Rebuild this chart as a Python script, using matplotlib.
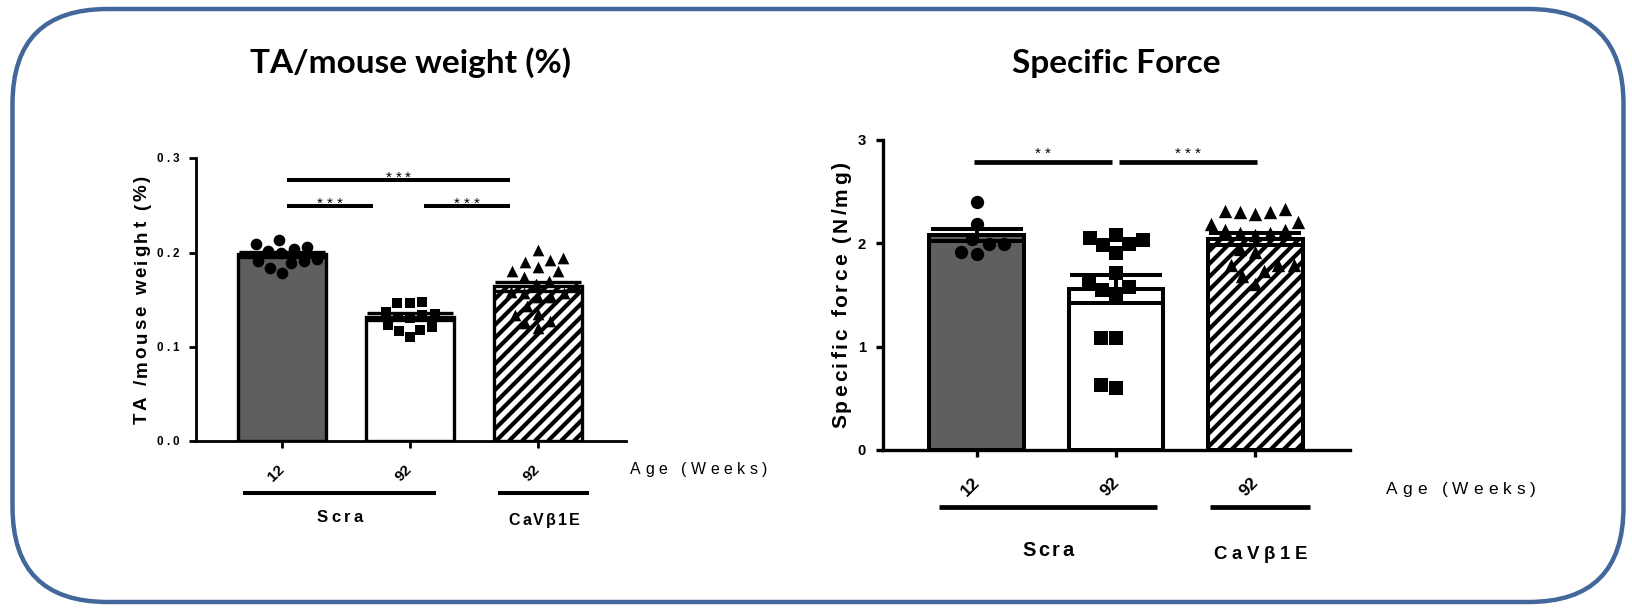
import numpy as np
import matplotlib
matplotlib.use("Agg")
import matplotlib.pyplot as plt
import matplotlib.transforms as mtransforms
from matplotlib.font_manager import FontProperties, findfont, get_font
from matplotlib.patches import FancyBboxPatch
from matplotlib.collections import LineCollection

try:
    from matplotlib.ft2font import LoadFlags
    NO_HINT = LoadFlags.NO_HINTING
except ImportError:
    NO_HINT = 2

# ---------------- data ----------------
ages = ["12", "92", "92"]
group_names = ["Scra", "CaVβ1E"]

# TA / mouse weight (%)
ta_mean = [0.198, 0.132, 0.164]
ta_sem = [0.003, 0.004, 0.005]
ta_scra12 = [0.213, 0.206, 0.202, 0.209, 0.204, 0.199, 0.191, 0.189, 0.178, 0.184, 0.191, 0.193]
ta_scra92 = [0.146, 0.137, 0.135, 0.146, 0.148, 0.123, 0.118, 0.110, 0.117, 0.121, 0.132, 0.130, 0.134]
ta_cav92 = [0.194, 0.190, 0.203, 0.185, 0.192, 0.180, 0.180, 0.174, 0.167, 0.170, 0.164,
            0.158, 0.157, 0.153, 0.143, 0.153, 0.157, 0.135, 0.127, 0.120, 0.125, 0.134]
ta_ticks = [0.0, 0.1, 0.2, 0.3]
ta_tick_labels = ["0.0", "0.1", "0.2", "0.3"]
ta_sig = [(0.04, 1.78, 0.277, "***"), (0.04, 0.71, 0.249, "***"), (1.11, 1.78, 0.249, "***")]

# Specific force (N/mg)
sf_mean = [2.08, 1.555, 2.04]
sf_sem = [0.06, 0.135, 0.06]
sf_scra12 = [2.40, 2.19, 2.04, 1.99, 1.90, 1.92, 1.99]
sf_scra92 = [2.05, 1.99, 2.08, 1.98, 2.03, 1.91, 1.71, 1.58, 1.50, 1.55, 1.63, 1.08, 1.08, 0.60, 0.63]
sf_cav92 = [2.30, 2.28, 2.33, 2.30, 2.19, 2.21, 2.13, 2.13, 2.10, 2.10,
            2.31, 2.08, 1.79, 1.79, 1.73, 1.61, 1.68, 1.79, 1.92, 1.95]
sf_ticks = [0, 1, 2, 3]
sf_tick_labels = ["0", "1", "2", "3"]
sf_sig = [(-0.02, 0.97, 2.784, "**"), (1.02, 2.01, 2.784, "***")]

# ---------------- figure ----------------
W, H = 1632, 608
PT = 100 / 72.0  # pixels per point
fig = plt.figure(figsize=(W / 100, H / 100), dpi=100)
PX = mtransforms.Affine2D().scale(1 / W, -1 / H).translate(0, 1) + fig.transFigure

FONT = "Liberation Sans"
BORDER = "#41679b"
DARK = "#5f5f5f"

# rounded frame around both panels
bg = fig.add_axes([0, 0, 1, 1], zorder=-5)
bg.set_xlim(0, W)
bg.set_ylim(H, 0)
bg.axis("off")
bg.add_patch(FancyBboxPatch((12.5, 9), 1611, 593, boxstyle="round,pad=0,rounding_size=95",
                            linewidth=3.2, edgecolor=BORDER, facecolor="white"))


def advances(s, prop):
    font = get_font(findfont(prop))
    font.set_size(prop.get_size_in_points(), 72)
    return [font.load_char(ord(c), flags=NO_HINT).linearHoriAdvance / 65536 for c in s]


def tracked(x, y, s, size, transform, track=0.15, weight="bold", rotation=0,
            ha="center", va="baseline", dx=0.0, dy=0.0, family=FONT, color="black"):
    """Draw text with extra letter spacing (track is in em)."""
    prop = FontProperties(family=family, size=size, weight=weight)
    adv = advances(s, prop)
    gap = track * size
    total = sum(adv) + gap * (len(s) - 1)
    pos = {"left": 0.0, "center": -total / 2, "right": -total}[ha]
    ux, uy = np.cos(np.radians(rotation)), np.sin(np.radians(rotation))
    for c, a in zip(s, adv):
        if not c.isspace():
            tr = mtransforms.offset_copy(transform, fig=fig, x=dx + pos * ux, y=dy + pos * uy,
                                         units="points")
            fig.text(x, y, c, transform=tr, fontproperties=prop, rotation=rotation,
                     rotation_mode="anchor", ha="left", va=va, color=color)
        pos += a + gap


def swarm_x(ax, xc, values, diam_px):
    """Spread points sideways so markers of the given diameter do not overlap."""
    t = ax.transData
    yp = np.array([t.transform((xc, v))[1] for v in values])
    xscale = t.transform((1, 0))[0] - t.transform((0, 0))[0]
    placed = []
    off = np.zeros(len(values))
    for i in np.argsort(yp):
        y = yp[i]
        cands = [0.0]
        for px, py in placed:
            dyy = abs(py - y)
            if dyy < diam_px:
                d = np.sqrt(diam_px ** 2 - dyy ** 2)
                cands += [px + d, px - d]
        cands.sort(key=lambda c: (abs(c), c))
        choice = cands[0]
        for c in cands:
            if all((c - px) ** 2 + (y - py) ** 2 >= diam_px ** 2 - 1e-6 for px, py in placed):
                choice = c
                break
        placed.append((choice, y))
        off[i] = choice
    return xc + off / xscale


def stripes(ax, patch, pitch_px, lw):
    """Diagonal fill lines kept inside one bar."""
    bb = patch.get_window_extent()
    h = bb.height
    segs = []
    k = bb.x0 - h
    while k < bb.x1:
        segs.append([(k, bb.y0), (k + h, bb.y1)])
        k += pitch_px
    lc = LineCollection(segs, colors="black", linewidths=lw,
                        transform=mtransforms.IdentityTransform(), zorder=2.5)
    ax.add_collection(lc, autolim=False)
    lc.set_clip_path(mtransforms.TransformedPatchPath(patch))


def panel(box_px, xlim, ylim, means, sems, samples, ticks, tick_labels, sig, title, ylabel, st):
    x0, ytop, x1, ybot = box_px
    ax = fig.add_axes([x0 / W, 1 - ybot / H, (x1 - x0) / W, (ybot - ytop) / H])
    ax.set_xlim(*xlim)
    ax.set_ylim(*ylim)
    for side in ("top", "right"):
        ax.spines[side].set_visible(False)
    for side in ("left", "bottom"):
        ax.spines[side].set_linewidth(st["spine"])
    ax.set_yticks(ticks)
    ax.set_yticklabels([])
    ax.set_xticks(range(len(means)))
    ax.set_xticklabels([])
    ax.tick_params(length=5, width=st["spine"], direction="out")
    ax.patch.set_alpha(0)

    xs = np.arange(len(means))
    bars = ax.bar(xs, means, width=0.68, color=[DARK, "white", "white"], edgecolor="black",
                  linewidth=st["bar_lw"], zorder=2)
    stripes(ax, bars[2], 13, 3.0)

    for i, (vals, mk, ms) in enumerate(zip(samples, ["o", "s", "^"], st["ms"])):
        xp = swarm_x(ax, i, vals, ms * PT * 1.15)
        ax.scatter(xp, vals, marker=mk, s=ms ** 2, c="black", linewidths=0, zorder=3, clip_on=False)

    ax.errorbar(xs, means, yerr=sems, fmt="none", ecolor="black", elinewidth=st["bar_lw"],
                capsize=st["cap"], capthick=st["bar_lw"], zorder=4)

    for a, b, y, lab in sig:
        ax.plot([a, b], [y, y], color="black", lw=st["sig_lw"], solid_capstyle="butt",
                clip_on=False, zorder=4)
        tracked((a + b) / 2, y, lab, 11, ax.transData, track=0.25, weight="normal",
                dy=st["star_dy"])

    ytr = mtransforms.blended_transform_factory(ax.transAxes, ax.transData)
    for v, lab in zip(ticks, tick_labels):
        tracked(0, v, lab, st["ytick"], ytr, track=0.29, ha="right",
                dx=-st["ytick_pad"], dy=-0.358 * st["ytick"])

    xtr = mtransforms.blended_transform_factory(ax.transData, ax.transAxes)
    for i, lab in enumerate(ages):
        tr = mtransforms.offset_copy(xtr, fig=fig, x=-6 / PT, y=-st["xtick_drop"] / PT, units="points")
        ax.text(i, 0, lab, transform=tr, rotation=45, rotation_mode="anchor", ha="center",
                va="center", fontsize=st["xtick"], fontweight="bold", family=FONT)

    tracked(st["age_x"], 0, "Age (Weeks)", st["age_size"], xtr, track=0.29, weight="normal",
            ha="left", dy=-st["age_drop"] / PT)

    for (a, b), name, drop, size, trk in zip(st["group_spans"], group_names, st["group_drop"],
                                              st["group_size"], st["group_track"]):
        tr = mtransforms.offset_copy(xtr, fig=fig, x=0, y=-st["line_drop"] / PT, units="points")
        ax.plot([a, b], [0, 0], transform=tr, color="black", lw=st["sig_lw"],
                solid_capstyle="butt", clip_on=False)
        tracked((a + b) / 2, 0, name, size, xtr, track=trk, dy=-drop / PT)

    tracked(0, 0.5, ylabel, st["ylabel"], ax.transAxes, track=st["ylabel_track"], rotation=90,
            dx=-st["ylabel_off"] / PT)

    fig.text((x0 + x1) / 2, 73, title, transform=PX, ha="center", va="baseline",
             fontsize=24, fontweight="bold", family="Lato")
    return ax


left_style = dict(spine=2.0, bar_lw=2.4, cap=31, sig_lw=2.9, star_dy=-1.3, ms=[8.4, 7.9, 8.4],
                  ytick=8.4, ytick_pad=12.2, xtick=11, xtick_drop=32, age_x=2.72, age_size=11.4,
                  age_drop=33, group_spans=[(-0.305, 1.203), (1.69, 2.40)], line_drop=52,
                  group_drop=[80.7, 84], group_size=[12, 11.5], group_track=[0.19, 0.13],
                  ylabel=13.5, ylabel_track=0.15, ylabel_off=49.3)

right_style = dict(spine=2.4, bar_lw=2.9, cap=33, sig_lw=3.4, star_dy=3.0, ms=[9.6, 9.4, 9.6],
                   ytick=10.7, ytick_pad=12.2, xtick=12.5, xtick_drop=36.7, age_x=2.94,
                   age_size=12.4, age_drop=44, group_spans=[(-0.274, 1.296), (1.676, 2.394)],
                   line_drop=57, group_drop=[106, 109], group_size=[14.4, 13.4],
                   group_track=[0.14, 0.25], ylabel=15, ylabel_track=0.14, ylabel_off=36.3)

panel((196, 158.3, 626, 441), (-0.672, 2.6875), (0, 0.3), ta_mean, ta_sem,
      [ta_scra12, ta_scra92, ta_cav92], ta_ticks, ta_tick_labels, ta_sig,
      "TA/mouse weight (%)", "TA /mouse weight (%)", left_style)

panel((883, 140, 1350, 450), (-0.6726, 2.68), (0, 3), sf_mean, sf_sem,
      [sf_scra12, sf_scra92, sf_cav92], sf_ticks, sf_tick_labels, sf_sig,
      "Specific Force", "Specific force (N/mg)", right_style)

fig.savefig("out.png", dpi=100)
